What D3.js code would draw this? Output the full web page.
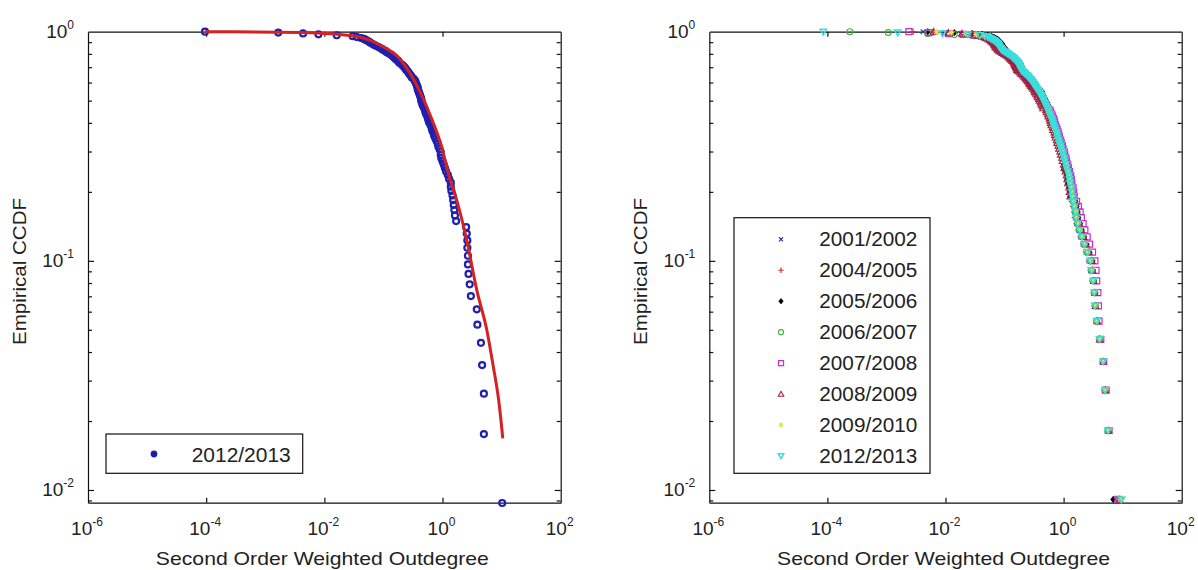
<!DOCTYPE html>
<html><head><meta charset="utf-8">
<script src="https://cdn.jsdelivr.net/npm/d3@7"></script>
<style>
body{margin:0;background:#fff;}
text{font-family:"Liberation Sans",Arial,sans-serif;fill:#222;}
</style>
</head><body>
<svg id="c" width="1198" height="570"></svg>
<script>
// ---------------- DATA ----------------
const xTickExps = [-6, -4, -2, 0, 2];
const yTickExps = [0, -1, -2];
const xLabel = "Second Order Weighted Outdegree";
const yLabel = "Empirical CCDF";

// Left panel: 2012/2013, log10 of sorted outdegree values (n = 114)
const leftSeason = "2012/2013";
const left2013Log = [
 -4.02,-2.78,-2.36,-2.10,-1.79,-1.52,-1.45,-1.38,-1.33,-1.30,
 -1.27,-1.24,-1.22,-1.19,-1.16,-1.13,-1.09,-1.06,-1.03,-1.01,
 -0.97,-0.95,-0.92,-0.89,-0.86,-0.84,-0.82,-0.80,-0.78,-0.75,
 -0.74,-0.72,-0.69,-0.67,-0.65,-0.63,-0.62,-0.60,-0.58,-0.57,
 -0.55,-0.53,-0.52,-0.49,-0.47,-0.46,-0.45,-0.44,-0.43,-0.42,
 -0.42,-0.41,-0.40,-0.39,-0.38,-0.37,-0.36,-0.36,-0.35,-0.34,
 -0.33,-0.31,-0.30,-0.29,-0.28,-0.26,-0.25,-0.24,-0.23,-0.21,
 -0.19,-0.18,-0.17,-0.15,-0.14,-0.12,-0.10,-0.08,-0.07,-0.05,
 -0.03,-0.03,-0.02,0.00,0.02,0.04,0.06,0.09,0.11,0.14,
 0.14,0.15,0.17,0.18,0.19,0.20,0.21,0.23,0.40,0.41,
 0.42,0.42,0.43,0.43,0.44,0.46,0.48,0.58,0.59,0.65,
 0.67,0.70,0.70,1.01
];
// Left panel: fitted CCDF (red line)
const fitLogX = [-4.02,-2.41,-1.74,-1.40,-1.06,-0.72,-0.38,-0.21,-0.04,0.13,0.24,0.41,0.58,0.75,0.86,0.95,1.02];
const fitCCDF = [1.0,0.992,0.972,0.948,0.875,0.760,0.546,0.433,0.330,0.226,0.184,0.123,0.0745,0.0498,0.0345,0.0247,0.0168];

// Right panel: log10 of sorted outdegree values per season (n = 110 each)
const seasons = ["2001/2002","2004/2005","2005/2006","2006/2007","2007/2008","2008/2009","2009/2010","2012/2013"];
const s2001 = [
 -2.38,-2.02,-1.74,-1.52,-1.40,-1.33,-1.27,-1.22,-1.19,-1.16,
 -1.14,-1.12,-1.10,-1.09,-1.08,-1.07,-1.06,-1.04,-1.03,-1.01,
 -0.98,-0.95,-0.92,-0.89,-0.86,-0.84,-0.82,-0.80,-0.78,-0.76,
 -0.75,-0.74,-0.73,-0.72,-0.71,-0.70,-0.68,-0.65,-0.63,-0.60,
 -0.60,-0.58,-0.56,-0.54,-0.52,-0.51,-0.49,-0.47,-0.45,-0.43,
 -0.42,-0.40,-0.38,-0.37,-0.35,-0.34,-0.32,-0.31,-0.29,-0.28,
 -0.24,-0.23,-0.21,-0.20,-0.18,-0.17,-0.16,-0.15,-0.13,-0.12,
 -0.10,-0.09,-0.08,-0.06,-0.05,-0.03,-0.02,0.00,0.01,0.03,
 0.04,0.06,0.07,0.09,0.11,0.12,0.13,0.15,0.16,0.17,
 0.17,0.18,0.19,0.20,0.22,0.25,0.29,0.33,0.38,0.43,
 0.46,0.49,0.51,0.53,0.55,0.60,0.66,0.70,0.74,0.93];
const s2004 = [
 -2.55,-2.20,-1.88,-1.66,-1.50,-1.40,-1.34,-1.29,-1.26,-1.23,
 -1.20,-1.18,-1.16,-1.15,-1.14,-1.13,-1.12,-1.10,-1.09,-1.07,
 -1.04,-1.01,-0.98,-0.95,-0.92,-0.90,-0.88,-0.86,-0.84,-0.82,
 -0.81,-0.80,-0.79,-0.78,-0.77,-0.76,-0.74,-0.71,-0.69,-0.66,
 -0.64,-0.62,-0.60,-0.58,-0.56,-0.55,-0.53,-0.51,-0.49,-0.47,
 -0.45,-0.43,-0.41,-0.40,-0.38,-0.37,-0.35,-0.34,-0.32,-0.31,
 -0.29,-0.28,-0.26,-0.25,-0.23,-0.22,-0.21,-0.20,-0.18,-0.17,
 -0.15,-0.14,-0.13,-0.11,-0.10,-0.08,-0.07,-0.05,-0.04,-0.02,
 -0.01,0.01,0.02,0.04,0.06,0.07,0.08,0.10,0.11,0.12,
 0.14,0.16,0.18,0.19,0.22,0.25,0.29,0.33,0.38,0.43,
 0.46,0.49,0.51,0.52,0.55,0.60,0.66,0.69,0.75,0.93];
const s2005 = [
 -2.30,-1.85,-1.55,-1.38,-1.28,-1.22,-1.18,-1.15,-1.12,-1.10,
 -1.09,-1.07,-1.05,-1.04,-1.03,-1.02,-1.01,-0.99,-0.98,-0.96,
 -0.96,-0.93,-0.90,-0.87,-0.84,-0.82,-0.80,-0.78,-0.76,-0.74,
 -0.73,-0.72,-0.71,-0.70,-0.69,-0.68,-0.66,-0.63,-0.61,-0.58,
 -0.56,-0.54,-0.52,-0.50,-0.48,-0.47,-0.45,-0.43,-0.41,-0.39,
 -0.36,-0.36,-0.34,-0.33,-0.31,-0.30,-0.28,-0.27,-0.25,-0.24,
 -0.24,-0.23,-0.21,-0.20,-0.18,-0.17,-0.16,-0.15,-0.13,-0.12,
 -0.12,-0.11,-0.10,-0.08,-0.07,-0.05,-0.04,-0.02,-0.01,0.01,
 0.01,0.01,0.01,0.03,0.05,0.06,0.07,0.09,0.10,0.11,
 0.20,0.22,0.24,0.25,0.28,0.31,0.35,0.39,0.44,0.49,
 0.50,0.52,0.54,0.55,0.57,0.62,0.67,0.71,0.75,0.84];
const s2006 = [
 -3.62,-2.97,-2.30,-1.85,-1.55,-1.40,-1.32,-1.27,-1.23,-1.20,
 -1.18,-1.16,-1.14,-1.13,-1.12,-1.11,-1.10,-1.08,-1.07,-1.05,
 -1.02,-0.99,-0.96,-0.93,-0.90,-0.88,-0.86,-0.84,-0.82,-0.80,
 -0.79,-0.78,-0.77,-0.76,-0.75,-0.74,-0.72,-0.69,-0.67,-0.64,
 -0.62,-0.60,-0.58,-0.56,-0.54,-0.53,-0.51,-0.49,-0.47,-0.45,
 -0.44,-0.42,-0.40,-0.39,-0.37,-0.36,-0.34,-0.33,-0.31,-0.30,
 -0.25,-0.24,-0.22,-0.21,-0.19,-0.18,-0.17,-0.16,-0.14,-0.13,
 -0.11,-0.10,-0.09,-0.07,-0.06,-0.04,-0.03,-0.01,0.00,0.02,
 0.03,0.05,0.06,0.08,0.10,0.11,0.12,0.14,0.15,0.16,
 0.16,0.18,0.20,0.21,0.24,0.27,0.31,0.35,0.40,0.45,
 0.47,0.50,0.52,0.54,0.56,0.61,0.67,0.70,0.75,0.95];
const s2007 = [
 -2.62,-2.28,-1.95,-1.70,-1.50,-1.38,-1.31,-1.27,-1.24,-1.21,
 -1.19,-1.17,-1.15,-1.14,-1.13,-1.12,-1.11,-1.09,-1.08,-1.06,
 -1.03,-1.00,-0.97,-0.94,-0.91,-0.89,-0.87,-0.85,-0.83,-0.81,
 -0.80,-0.79,-0.78,-0.77,-0.76,-0.75,-0.73,-0.70,-0.68,-0.65,
 -0.63,-0.61,-0.59,-0.57,-0.55,-0.54,-0.52,-0.50,-0.48,-0.46,
 -0.42,-0.40,-0.38,-0.37,-0.35,-0.34,-0.32,-0.31,-0.29,-0.28,
 -0.23,-0.22,-0.20,-0.19,-0.17,-0.16,-0.15,-0.14,-0.12,-0.11,
 -0.09,-0.08,-0.07,-0.05,-0.04,-0.02,-0.01,0.01,0.02,0.04,
 0.05,0.07,0.08,0.10,0.12,0.13,0.14,0.16,0.17,0.18,
 0.22,0.25,0.28,0.30,0.33,0.36,0.40,0.44,0.49,0.53,
 0.55,0.56,0.58,0.59,0.60,0.63,0.68,0.72,0.77,0.92];
const s2008 = [
 -2.20,-1.95,-1.72,-1.55,-1.45,-1.38,-1.34,-1.31,-1.28,-1.25,
 -1.23,-1.21,-1.19,-1.18,-1.17,-1.16,-1.15,-1.13,-1.12,-1.10,
 -1.07,-1.04,-1.01,-0.98,-0.95,-0.93,-0.91,-0.89,-0.87,-0.85,
 -0.84,-0.83,-0.82,-0.81,-0.80,-0.79,-0.77,-0.74,-0.72,-0.69,
 -0.67,-0.65,-0.63,-0.61,-0.59,-0.58,-0.56,-0.54,-0.52,-0.50,
 -0.49,-0.47,-0.45,-0.44,-0.42,-0.41,-0.39,-0.38,-0.36,-0.35,
 -0.30,-0.29,-0.27,-0.26,-0.24,-0.23,-0.22,-0.21,-0.19,-0.18,
 -0.16,-0.15,-0.14,-0.12,-0.11,-0.09,-0.08,-0.06,-0.05,-0.03,
 -0.02,0.00,0.01,0.03,0.05,0.06,0.07,0.09,0.10,0.11,
 0.19,0.21,0.23,0.24,0.27,0.30,0.34,0.38,0.43,0.48,
 0.49,0.51,0.53,0.54,0.57,0.61,0.67,0.71,0.76,0.95];
const s2009 = [
 -2.15,-1.90,-1.66,-1.48,-1.36,-1.29,-1.24,-1.20,-1.17,-1.15,
 -1.13,-1.11,-1.09,-1.08,-1.07,-1.06,-1.05,-1.03,-1.02,-1.00,
 -0.97,-0.94,-0.91,-0.88,-0.85,-0.83,-0.81,-0.79,-0.77,-0.75,
 -0.74,-0.73,-0.72,-0.71,-0.70,-0.69,-0.67,-0.64,-0.62,-0.59,
 -0.57,-0.55,-0.53,-0.51,-0.49,-0.48,-0.46,-0.44,-0.42,-0.40,
 -0.40,-0.39,-0.37,-0.36,-0.34,-0.33,-0.31,-0.30,-0.28,-0.27,
 -0.26,-0.25,-0.23,-0.22,-0.20,-0.19,-0.18,-0.17,-0.15,-0.14,
 -0.12,-0.11,-0.10,-0.08,-0.07,-0.05,-0.04,-0.02,-0.01,0.01,
 0.02,0.04,0.05,0.07,0.09,0.10,0.11,0.13,0.14,0.15,
 0.17,0.19,0.21,0.22,0.25,0.28,0.32,0.36,0.41,0.46,
 0.48,0.50,0.52,0.54,0.56,0.61,0.67,0.70,0.75,0.96];
const s2012 = [
 -4.07,-2.81,-2.05,-1.62,-1.42,-1.33,-1.28,-1.24,-1.21,-1.18,
 -1.16,-1.14,-1.12,-1.11,-1.10,-1.09,-1.08,-1.06,-1.05,-1.03,
 -1.00,-0.97,-0.94,-0.91,-0.88,-0.86,-0.84,-0.82,-0.80,-0.78,
 -0.77,-0.76,-0.75,-0.74,-0.73,-0.72,-0.70,-0.67,-0.65,-0.62,
 -0.60,-0.58,-0.56,-0.54,-0.52,-0.51,-0.49,-0.47,-0.45,-0.43,
 -0.42,-0.40,-0.38,-0.37,-0.35,-0.34,-0.32,-0.31,-0.29,-0.28,
 -0.26,-0.25,-0.23,-0.22,-0.20,-0.19,-0.18,-0.17,-0.15,-0.14,
 -0.12,-0.11,-0.10,-0.08,-0.07,-0.05,-0.04,-0.02,-0.01,0.01,
 0.02,0.04,0.05,0.07,0.09,0.10,0.11,0.13,0.14,0.15,
 0.16,0.18,0.20,0.21,0.24,0.27,0.31,0.35,0.40,0.45,
 0.47,0.50,0.52,0.53,0.56,0.61,0.67,0.70,0.75,0.98];
const seasonData = [s2001, s2004, s2005, s2006, s2007, s2008, s2009, s2012];

// ---------------- STYLE ----------------
const markerStyles = [
  {shape:"x",     color:"#2b2b9c", size:2.4, fill:false, sw:1.1},
  {shape:"plus",  color:"#e02828", size:3.2, fill:false, sw:1.2},
  {shape:"diamond",color:"#000000",size:3.2, fill:true,  sw:0.7},
  {shape:"circle",color:"#3cb43c", size:3.0, fill:false, sw:1.1},
  {shape:"square",color:"#cc2ccc", size:3.0, fill:false, sw:1.2},
  {shape:"tri",   color:"#a0203c", size:3.2, fill:false, sw:1.1},
  {shape:"star",  color:"#e4e44c", size:3.0, fill:false, sw:1.1},
  {shape:"tridown",color:"#38dede",size:3.2, fill:false, sw:1.5}
];
function markerPath(shape, s){
  switch(shape){
    case "x": return `M${-s},${-s}L${s},${s}M${-s},${s}L${s},${-s}`;
    case "plus": return `M${-s},0H${s}M0,${-s}V${s}`;
    case "diamond": return `M0,${-s}L${s*0.8},0L0,${s}L${-s*0.8},0Z`;
    case "circle": return `M${s},0A${s},${s} 0 1,1 ${-s},0A${s},${s} 0 1,1 ${s},0Z`;
    case "square": return `M${-s},${-s}H${s}V${s}H${-s}Z`;
    case "tri": return `M0,${-s}L${s},${s*0.8}H${-s}Z`;
    case "tridown": return `M0,${s}L${s},${-s*0.8}H${-s}Z`;
    case "star": { const d=s*0.7; return `M${-s},0H${s}M0,${-s}V${s}M${-d},${-d}L${d},${d}M${-d},${d}L${d},${-d}`; }
  }
}

const svg = d3.select("#c");
const yTop = 31.7, yBot = 502.7, yMin = 0.0088;
const panels = [{x0:88, x1:560.7}, {x0:709.3, x1:1181.7}];

function drawFrame(p){
  const g = svg.append("g");
  const x = d3.scaleLog().domain([1e-6, 1e2]).range([p.x0, p.x1]);
  const y = d3.scaleLog().domain([yMin, 1]).range([yBot, yTop]);
  const xMajor = xTickExps.map(e => 10 ** e).filter(v => v > 1e-6 && v < 1e2);
  const yMajor = yTickExps.map(e => 10 ** e).filter(v => v < 1);
  const yMinor = y.ticks().filter(v => !yTickExps.some(e => Math.abs(Math.log10(v) - e) < 1e-9));
  const style = s => s.call(a => a.selectAll("path,line").attr("stroke","#111").attr("stroke-width",1.2))
                      .call(a => a.selectAll("text").remove());
  g.append("g").attr("transform",`translate(0,${yBot})`)
    .call(d3.axisBottom(x).tickValues(xMajor).tickSizeInner(-5).tickSizeOuter(0).tickFormat("")).call(style);
  g.append("g").attr("transform",`translate(0,${yTop})`)
    .call(d3.axisTop(x).tickValues(xMajor).tickSizeInner(-5).tickSizeOuter(0).tickFormat("")).call(style);
  g.append("g").attr("transform",`translate(${p.x0},0)`)
    .call(d3.axisLeft(y).tickValues(yMajor).tickSizeInner(-6).tickSizeOuter(0).tickFormat("")).call(style);
  g.append("g").attr("transform",`translate(${p.x1},0)`)
    .call(d3.axisRight(y).tickValues(yMajor).tickSizeInner(-6).tickSizeOuter(0).tickFormat("")).call(style);
  g.append("g").attr("transform",`translate(${p.x0},0)`)
    .call(d3.axisLeft(y).tickValues(yMinor).tickSizeInner(-4).tickSizeOuter(0).tickFormat("")).call(style)
    .call(a => a.select(".domain").remove());
  g.append("g").attr("transform",`translate(${p.x1},0)`)
    .call(d3.axisRight(y).tickValues(yMinor).tickSizeInner(-4).tickSizeOuter(0).tickFormat("")).call(style)
    .call(a => a.select(".domain").remove());

  // tick labels
  g.selectAll(".xl").data(xTickExps).join("text")
    .attr("x", e => x(10 ** e) - 1).attr("y", 535).attr("text-anchor","middle").style("font-size","19px")
    .each(function(e){ const t = d3.select(this);
      t.append("tspan").text("10");
      t.append("tspan").attr("dy", -9).style("font-size","12px").text(String(e)); });
  g.selectAll(".yl").data(yTickExps).join("text")
    .attr("x", p.x0 - 14).attr("y", e => y(10 ** e) + 6.5).attr("text-anchor","end").style("font-size","19px")
    .each(function(e){ const t = d3.select(this);
      t.append("tspan").text("10");
      t.append("tspan").attr("dy", -9).style("font-size","12px").text(String(e)); });
  // axis labels
  g.append("text").attr("x", (p.x0 + p.x1) / 2 - 2).attr("y", 565).attr("text-anchor","middle")
    .style("font-size","19px").attr("textLength",333).attr("lengthAdjust","spacingAndGlyphs").text(xLabel);
  g.append("text").attr("transform",`translate(${p.x0 - 62},271.5) rotate(-90)`).attr("text-anchor","middle")
    .style("font-size","19px").attr("textLength",147).attr("lengthAdjust","spacingAndGlyphs").text(yLabel);
  return {g, x, y};
}

// ---------------- LEFT PANEL ----------------
(function(){
  const {g, x, y} = drawFrame(panels[0]);
  const n = left2013Log.length;
  const pts = left2013Log.map((v, i) => ({x: 10 ** v, p: (n - i) / n}));
  g.append("g").selectAll("circle").data(pts).join("circle")
    .attr("cx", d => x(d.x)).attr("cy", d => y(d.p)).attr("r", 3.0)
    .attr("fill","none").attr("stroke","#1f1fb0").attr("stroke-width",2.2);
  const fit = fitLogX.map((v, i) => [10 ** v, fitCCDF[i]]);
  g.append("path").datum(fit)
    .attr("d", d3.line().x(d => x(d[0])).y(d => y(d[1])).curve(d3.curveMonotoneX))
    .attr("fill","none").attr("stroke","#d42222").attr("stroke-width",3);
  // legend
  const lg = svg.append("g");
  lg.append("rect").attr("x",106).attr("y",434).attr("width",196.7).attr("height",39.3)
    .attr("fill","#fff").attr("stroke","#111").attr("stroke-width",1.2);
  lg.append("circle").attr("cx",154).attr("cy",454).attr("r",2.6)
    .attr("fill","#1a1a9a").attr("stroke","#1f1fb0").attr("stroke-width",1.6);
  lg.append("text").attr("x",191.7).attr("y",461.5).style("font-size","20px")
    .attr("textLength",99).attr("lengthAdjust","spacingAndGlyphs").text(leftSeason);
})();

// ---------------- RIGHT PANEL ----------------
(function(){
  const {g, x, y} = drawFrame(panels[1]);
  seasonData.forEach((arr, si) => {
    const ms = markerStyles[si];
    const n = arr.length;
    const pts = arr.map((v, i) => ({x: 10 ** v, p: (n - i) / n}));
    g.append("g").selectAll("path").data(pts).join("path")
      .attr("transform", d => `translate(${x(d.x)},${y(d.p)})`)
      .attr("d", markerPath(ms.shape, ms.size))
      .attr("fill", ms.fill ? ms.color : "none")
      .attr("stroke", ms.color).attr("stroke-width", ms.sw);
  });
  const lg = svg.append("g");
  lg.append("rect").attr("x",734).attr("y",217.7).attr("width",196).attr("height",255.6)
    .attr("fill","#fff").attr("stroke","#111").attr("stroke-width",1.2);
  seasons.forEach((s, i) => {
    const cy = 239.3 + 30.95 * i;
    const ms = markerStyles[i];
    lg.append("path").attr("transform",`translate(781,${cy})`)
      .attr("d", markerPath(ms.shape, ms.size * 0.85))
      .attr("fill", ms.fill ? ms.color : "none").attr("stroke", ms.color).attr("stroke-width", ms.sw);
    lg.append("text").attr("x",819.3).attr("y",cy + 7).style("font-size","20px")
      .attr("textLength",98).attr("lengthAdjust","spacingAndGlyphs").text(s);
  });
})();
</script>
</body></html>
